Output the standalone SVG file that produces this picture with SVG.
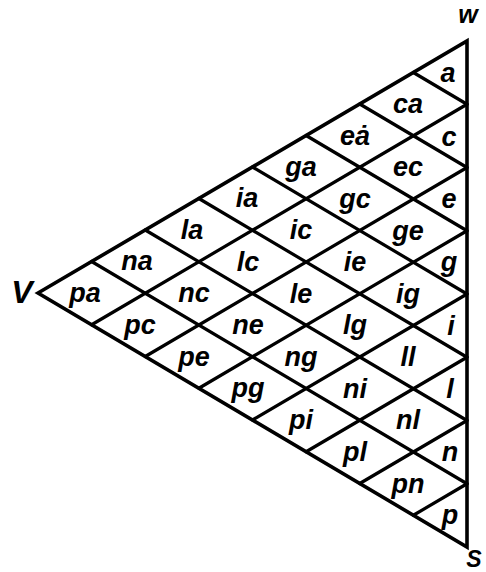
<svg xmlns="http://www.w3.org/2000/svg" width="486" height="572" viewBox="0 0 486 572">
<style>
.ln{stroke:#000;stroke-width:3.2;fill:none;stroke-linecap:round}
.ol{stroke:#000;stroke-width:3.6;fill:none;stroke-linejoin:miter}
text{font-family:"Liberation Sans",Arial,sans-serif;font-weight:bold;font-style:italic;font-size:27px;text-anchor:middle;fill:#000}
.v{font-size:32px}
.w{font-size:25px}
.s{font-size:23px}
</style>
<rect width="486" height="572" fill="#fff"/>
<g id="connectors">
<polygon class="ol" points="38,293 467,41 467,547"/>
<line class="ln" x1="91.625" y1="261.5" x2="467" y2="483.75"/>
<line class="ln" x1="145.25" y1="230" x2="467" y2="420.5"/>
<line class="ln" x1="198.875" y1="198.5" x2="467" y2="357.25"/>
<line class="ln" x1="252.5" y1="167" x2="467" y2="294"/>
<line class="ln" x1="306.125" y1="135.5" x2="467" y2="230.75"/>
<line class="ln" x1="359.75" y1="104" x2="467" y2="167.5"/>
<line class="ln" x1="413.375" y1="72.5" x2="467" y2="104.25"/>
<line class="ln" x1="91.625" y1="324.75" x2="467" y2="104.25"/>
<line class="ln" x1="145.25" y1="356.5" x2="467" y2="167.5"/>
<line class="ln" x1="198.875" y1="388.25" x2="467" y2="230.75"/>
<line class="ln" x1="252.5" y1="420" x2="467" y2="294"/>
<line class="ln" x1="306.125" y1="451.75" x2="467" y2="357.25"/>
<line class="ln" x1="359.75" y1="483.5" x2="467" y2="420.5"/>
<line class="ln" x1="413.375" y1="515.25" x2="467" y2="483.75"/>
</g>
<g id="vertex-V"><text class="v" x="22" y="303">V</text></g>
<g id="vertex-W"><text class="w" x="468" y="23">w</text></g>
<g id="vertex-S"><text class="s" x="474" y="567">S</text></g>
<g id="cells">
<g id="pa"><text x="85" y="302">pa</text></g>
<g id="na"><text x="137" y="270">na</text></g>
<g id="pc"><text x="140" y="334">pc</text></g>
<g id="la"><text x="192" y="239">la</text></g>
<g id="nc"><text x="194" y="302">nc</text></g>
<g id="pe"><text x="194" y="366">pe</text></g>
<g id="ia"><text x="247" y="207">ia</text></g>
<g id="lc"><text x="248" y="271">lc</text></g>
<g id="ne"><text x="248" y="334">ne</text></g>
<g id="pg"><text x="248" y="397">pg</text></g>
<g id="ga"><text x="301" y="176">ga</text></g>
<g id="ic"><text x="301" y="239">ic</text></g>
<g id="le"><text x="301" y="303">le</text></g>
<g id="ng"><text x="301" y="366">ng</text></g>
<g id="pi"><text x="301" y="429">pi</text></g>
<g id="ea"><text x="355" y="145">eȧ</text></g>
<g id="gc"><text x="355" y="208">gc</text></g>
<g id="ie"><text x="355" y="271">ie</text></g>
<g id="lg"><text x="355" y="334">lg</text></g>
<g id="ni"><text x="355" y="398">ni</text></g>
<g id="pl"><text x="355" y="461">pl</text></g>
<g id="ca"><text x="408" y="113">ca</text></g>
<g id="ec"><text x="408" y="176">ec</text></g>
<g id="ge"><text x="408" y="240">ge</text></g>
<g id="ig"><text x="408" y="303">ig</text></g>
<g id="ll"><text x="408" y="366">ll</text></g>
<g id="nl"><text x="408" y="429">nl</text></g>
<g id="pn"><text x="408" y="493">pn</text></g>
<g id="a"><text x="448" y="82">a</text></g>
<g id="c"><text x="449" y="146">c</text></g>
<g id="e"><text x="449" y="208">e</text></g>
<g id="g"><text x="449" y="271">g</text></g>
<g id="i"><text x="451" y="335">i</text></g>
<g id="l"><text x="450" y="398">l</text></g>
<g id="n"><text x="450" y="461">n</text></g>
<g id="p"><text x="450" y="524">p</text></g>
</g>
</svg>
